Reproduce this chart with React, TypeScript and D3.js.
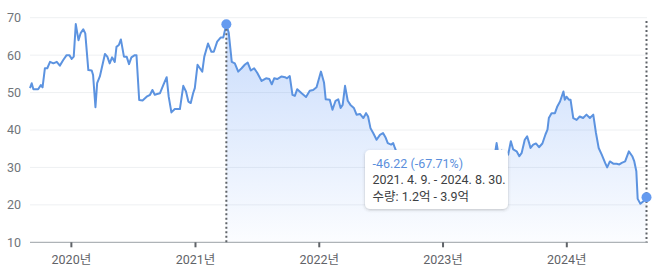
import React from "react";
import * as d3 from "d3";

const dates = [
  "2019-09-08","2019-09-13","2019-09-18","2019-10-02","2019-10-10","2019-10-15","2019-10-22","2019-10-29",
  "2019-11-06","2019-11-16","2019-11-26","2019-12-05","2019-12-15","2019-12-25","2020-01-02","2020-01-09",
  "2020-01-15","2020-01-21","2020-01-29","2020-02-04","2020-02-12","2020-02-18","2020-02-27","2020-03-08",
  "2020-03-12","2020-03-19","2020-03-24","2020-04-01","2020-04-16","2020-04-23","2020-04-30","2020-05-07",
  "2020-05-15","2020-05-20","2020-05-27","2020-06-02","2020-06-11","2020-06-19","2020-06-26","2020-07-03",
  "2020-07-13","2020-07-18","2020-07-26","2020-08-05","2020-08-17","2020-08-27","2020-09-03","2020-09-10",
  "2020-09-17","2020-09-25","2020-10-05","2020-10-15","2020-10-21","2020-10-29","2020-11-08","2020-11-23",
  "2020-12-03","2020-12-11","2020-12-18","2020-12-25","2021-01-01","2021-01-06","2021-01-14","2021-01-21",
  "2021-01-28","2021-02-03","2021-02-14","2021-02-24","2021-03-03","2021-03-13","2021-03-23","2021-03-31",
  "2021-04-09","2021-04-16","2021-04-25","2021-05-04","2021-05-14","2021-05-24","2021-06-03","2021-06-11",
  "2021-06-20","2021-06-30","2021-07-09","2021-07-22","2021-08-04","2021-08-14","2021-08-21","2021-08-28",
  "2021-09-06","2021-09-19","2021-09-29","2021-10-05","2021-10-13","2021-10-21","2021-10-28","2021-11-04",
  "2021-11-17","2021-11-30","2021-12-11","2021-12-21","2021-12-31","2022-01-13","2022-01-22","2022-01-27",
  "2022-02-08","2022-02-16","2022-02-25","2022-03-05","2022-03-12","2022-03-18","2022-03-25","2022-04-02",
  "2022-04-10","2022-04-20","2022-04-28","2022-05-08","2022-05-18","2022-05-26","2022-06-01","2022-06-08",
  "2022-06-16","2022-06-26","2022-07-06","2022-07-15","2022-07-23","2022-07-29","2022-08-08","2022-08-14",
  "2022-08-19","2022-08-26","2022-09-02","2022-09-09","2022-09-16","2022-09-23","2022-09-30","2022-10-07",
  "2022-10-14","2022-10-21","2022-10-28","2022-11-04","2022-11-11","2022-11-18","2022-11-25","2022-12-02",
  "2022-12-09","2022-12-16","2022-12-23","2022-12-30","2023-01-06","2023-01-13","2023-01-20","2023-01-27",
  "2023-02-03","2023-02-10","2023-02-17","2023-02-24","2023-03-03","2023-03-10","2023-03-17","2023-03-24",
  "2023-03-31","2023-04-07","2023-04-14","2023-04-21","2023-04-28","2023-05-05","2023-05-12","2023-05-19",
  "2023-05-26","2023-06-02","2023-06-09","2023-06-15","2023-06-18","2023-06-23","2023-06-30","2023-07-07",
  "2023-07-14","2023-07-19","2023-07-27","2023-08-03","2023-08-13","2023-08-21","2023-08-28","2023-09-06",
  "2023-09-13","2023-09-19","2023-09-23","2023-10-01","2023-10-09","2023-10-18","2023-10-28","2023-11-06",
  "2023-11-12","2023-11-16","2023-11-24","2023-12-04","2023-12-11","2023-12-19","2023-12-29","2024-01-02",
  "2024-01-07","2024-01-14","2024-01-19","2024-01-27","2024-02-06","2024-02-15","2024-02-25","2024-03-06",
  "2024-03-16","2024-03-26","2024-04-03","2024-04-11","2024-04-20","2024-04-30","2024-05-06","2024-05-14",
  "2024-05-24","2024-06-03","2024-06-11","2024-06-18","2024-06-28","2024-07-09","2024-07-19","2024-07-25",
  "2024-07-31","2024-08-04","2024-08-12","2024-08-20","2024-08-27","2024-08-30",
];

const prices = [
  51.2,52.5,50.9,50.9,52.0,51.4,56.5,56.5,
  58.2,57.8,58.2,57.2,58.7,60.0,60.0,59.0,
  59.6,68.3,64.0,65.8,66.9,65.8,56.0,55.9,
  54.7,46.1,52.5,54.3,60.3,59.6,57.8,59.4,
  58.2,62.2,62.7,64.2,59.6,59.6,57.6,59.4,
  60.0,60.0,48.0,47.9,48.9,49.4,50.7,49.4,
  49.6,49.8,52.0,54.1,48.9,44.7,45.6,45.6,
  51.8,50.3,47.6,47.2,49.8,51.2,57.4,56.5,
  55.6,59.6,63.1,60.9,60.9,63.6,64.7,64.7,
  68.26,66.0,58.2,57.8,55.6,56.5,57.5,58.0,
  55.9,56.5,55.3,53.1,53.8,53.6,52.2,53.8,
  53.6,54.3,54.1,53.8,54.4,49.4,49.1,50.9,
  49.8,48.8,50.5,50.7,51.4,55.6,52.7,48.2,
  48.1,45.4,47.8,48.2,45.9,46.7,51.8,47.8,
  46.7,45.9,44.1,44.3,43.2,44.5,43.6,40.5,
  39.2,37.4,38.7,39.2,37.9,36.5,36.1,36.5,
  35.2,33.6,31.8,31.6,29.5,27.4,25.8,26.4,
  25.5,26.5,28.4,28.6,29.6,29.3,29.6,29.7,
  28.5,27.2,26.4,26.4,27.8,29.9,30.0,28.3,
  28.9,27.1,26.0,25.0,26.5,27.0,28.9,29.8,
  32.6,31.6,32.0,31.3,31.0,29.4,28.6,29.7,
  30.5,31.5,33.0,36.5,34.8,33.5,34.5,33.0,
  33.4,33.4,37.0,34.8,34.3,33.0,33.9,37.4,
  38.3,36.5,35.2,36.1,36.4,35.4,36.4,38.8,
  40.1,43.2,44.5,44.5,46.3,47.6,50.3,48.1,
  48.9,48.1,48.1,43.2,42.7,43.6,43.2,44.1,
  43.2,44.1,39.2,35.2,33.4,31.2,30.0,31.6,
  31.0,31.0,30.8,31.2,31.6,34.3,33.0,31.6,
  29.0,21.6,20.3,20.9,21.5,22.04,
];

const yTicks = [10, 20, 30, 40, 50, 60, 70];
const xTickDates = ["2020-01-08", "2021-01-08", "2022-01-08", "2023-01-08", "2024-01-08"];
const xTickLabels = ["2020년", "2021년", "2022년", "2023년", "2024년"];
const rangeStart = "2021-04-09";
const rangeEnd = "2024-08-30";
const changeText = "-46.22 (-67.71%)";
const rangeText = "2021. 4. 9. - 2024. 8. 30.";
const volumeText = "수량: 1.2억 - 3.9억";

const W = 672;
const H = 269;
const FONT = "Roboto, 'Noto Sans CJK KR', sans-serif";

export default function App() {
  const parse = d3.timeParse("%Y-%m-%d");
  const data = dates.map((d, i) => ({ date: parse(d) as Date, value: prices[i] }));
  const x = d3
    .scaleTime()
    .domain([data[0].date, data[data.length - 1].date])
    .range([30, 646.5]);
  const y = d3.scaleLinear().domain([10, 70]).range([242.3, 17.7]);

  const s = parse(rangeStart) as Date;
  const e = parse(rangeEnd) as Date;
  const sel = data.filter((d) => d.date >= s && d.date <= e);

  const line = d3
    .line<{ date: Date; value: number }>()
    .x((d) => x(d.date))
    .y((d) => y(d.value));
  const area = d3
    .area<{ date: Date; value: number }>()
    .x((d) => x(d.date))
    .y0(y(10))
    .y1((d) => y(d.value));

  const first = sel[0];
  const last = sel[sel.length - 1];

  return (
    <svg
      width={W}
      height={H}
      style={{ position: "fixed", left: 0, top: 0, background: "#fff" }}
      fontFamily={FONT}
    >
      <defs>
        <linearGradient id="fillGrad" gradientUnits="userSpaceOnUse" x1="0" y1={y(70)} x2="0" y2={y(10)}>
          <stop offset="0" stopColor="#4f8df5" stopOpacity={0.32} />
          <stop offset="1" stopColor="#4f8df5" stopOpacity={0.02} />
        </linearGradient>
        <filter id="shadow" x="-20%" y="-30%" width="140%" height="160%">
          <feDropShadow dx="0" dy="1" stdDeviation="1.6" floodColor="#3c4043" floodOpacity="0.3" />
        </filter>
      </defs>

      {yTicks.map((t) => (
        <g key={t}>
          {t !== 10 && (
            <line x1={30} x2={647} y1={y(t)} y2={y(t)} stroke="#eef0f2" strokeWidth={1} />
          )}
          <text x={21} y={y(t)} dy="0.35em" textAnchor="end" fontSize={12.5} fill="#70757a">
            {t}
          </text>
        </g>
      ))}

      <path d={area(sel) || ""} fill="url(#fillGrad)" />
      <path d={line(data) || ""} fill="none" stroke="#5c93e0" strokeWidth={2} strokeLinejoin="round" />

      <line x1={30} x2={648} y1={y(10)} y2={y(10)} stroke="#9aa0a6" strokeWidth={1} />
      {xTickDates.map((d, i) => {
        const px = x(parse(d) as Date);
        return (
          <g key={d}>
            <line x1={px} x2={px} y1={y(10)} y2={y(10) + 5} stroke="#5f6368" strokeWidth={2} />
            <text x={px} y={264} textAnchor="middle" fontSize={12.5} fill="#5f6368">
              {xTickLabels[i]}
            </text>
          </g>
        );
      })}

      <line
        x1={x(first.date)}
        x2={x(first.date)}
        y1={y(first.value)}
        y2={y(10)}
        stroke="#5f6368"
        strokeWidth={2}
        strokeDasharray="2 2.5"
      />
      <line
        x1={x(last.date)}
        x2={x(last.date)}
        y1={21}
        y2={y(10)}
        stroke="#5f6368"
        strokeWidth={2}
        strokeDasharray="2 2.5"
      />
      <circle cx={x(first.date)} cy={y(first.value)} r={5} fill="#659bf0" />
      <circle cx={x(last.date)} cy={y(last.value)} r={5} fill="#659bf0" />

      <g>
        <rect x={365} y={150} width={143} height={59} rx={5} fill="#fff" filter="url(#shadow)" />
        <text x={372.5} y={167.5} fontSize={12.5} fill="#5b8fdc">
          {changeText}
        </text>
        <text x={372.5} y={184.3} fontSize={12.5} fill="#3c4043">
          {rangeText}
        </text>
        <text x={372.5} y={200.5} fontSize={12.5} fill="#3c4043">
          {volumeText}
        </text>
      </g>
    </svg>
  );
}
